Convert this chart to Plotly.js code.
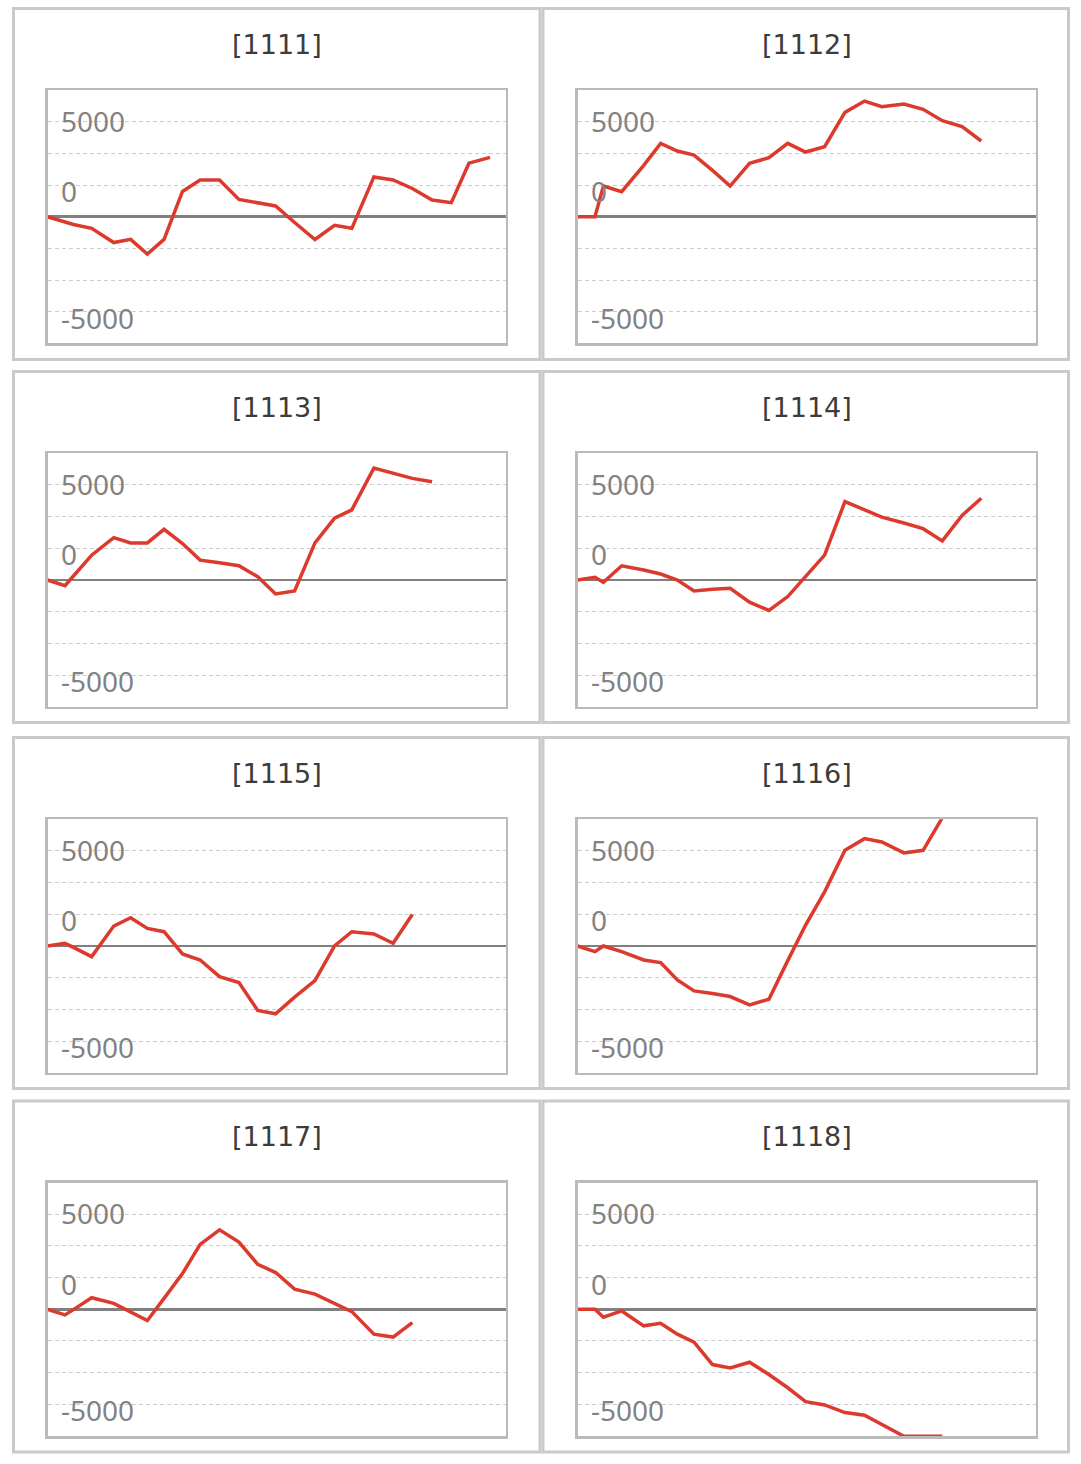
<!DOCTYPE html>
<html>
<head>
<meta charset="utf-8">
<script src="https://cdn.plot.ly/plotly-3.0.1.min.js"></script>
<style>
  html, body { margin: 0; padding: 0; background: #fff; }
  #chart { width: 1081px; height: 1464px; }
</style>
</head>
<body>
<div id="chart"></div>
<script>
// shared time axis (one unit ~ one step)
const days = [0, 0.91, 1.35, 2.3, 3.45, 4.33, 5.2, 6.07, 7.03, 7.95, 8.96, 9.97, 10.95,
              11.88, 12.87, 13.93, 14.95, 15.85, 17.0, 18.0, 19.0, 20.03, 21.03, 21.95, 23.05];

const names = ['[1111]', '[1112]', '[1113]', '[1114]', '[1115]', '[1116]', '[1117]', '[1118]'];

const s1111 = [0, -300, -410, -612, -1360, -1192, -1967, -1192, 1329, 1936, 1936, 907, 749,
               564, -306, -1202, -454, -612, 2094, 1936, 1487, 881, 738, 2816, 3122];
const s1112 = [0, 0, 1614, 1316, 2700, 3859, 3455, 3245, 2440, 1614, 2806, 3105, 3859,
               3403, 3683, 5490, 6086, 5788, 5929, 5648, 5052, 4736, 3982];
const s1113 = [0, -296, 210, 1307, 2230, 1951, 1951, 2665, 1916, 1045, 906, 749, 174,
               -732, -575, 1951, 3258, 3693, 5888, 5609, 5348, 5174];
const s1114 = [0, 139, -122, 749, 523, 314, 0, -575, -490, -436, -1167, -1603, -871,
               174, 1307, 4128, 3710, 3310, 2996, 2700, 2056, 3397, 4303];
const s1115 = [0, 140, -70, -560, 1049, 1487, 927, 752, -420, -735, -1609, -1924, -3393,
               -3568, -2693, -1819, 0, 752, 630, 140, 1662];
const s1116 = [0, -297, 0, -297, -735, -875, -1784, -2361, -2501, -2658, -3096, -2798, -770,
               1102, 2851, 5037, 5649, 5474, 4897, 5037, 6750];
const s1117 = [0, -296, -17, 610, 314, -122, -592, 575, 1881, 3414, 4181, 3536, 2369,
               1934, 1063, 801, 314, -122, -1307, -1463, -697];
const s1118 = [0, 0, -418, -87, -871, -732, -1307, -1725, -2909, -3083, -2787, -3432, -4128,
               -4860, -5034, -5435, -5574, -6045, -6680, -6680, -6680];

const series = [s1111, s1112, s1113, s1114, s1115, s1116, s1117, s1118];

// y grid every 1/3 of 5000, labels as drawn in the original
const gridVals = [-5000, -3333.33, -1666.67, 0, 1666.67, 3333.33, 5000];
const yLabels = [
  { text: '5000', at: 5000, shift: 1 },
  { text: '0', at: 1666.67, shift: -6 },
  { text: '-5000', at: -5000, shift: -6 }
];

const W = 1081, H = 1464;
const colLeft = [47.5, 577.5];
const plotW = 458;
const rowZero = [216.7, 580, 946, 1309.3];
const halfH = 126.7;
const panelX = [[13.5, 540], [543, 1068.5]];
const panelY = [[8.5, 359.5], [371.5, 722.5], [737.5, 1088.5], [1101, 1452]];

const px = v => v / W;
const py = v => 1 - v / H;

const traces = [];
const annotations = [];
const shapes = [];
const layout = {
  width: W,
  height: H,
  margin: { l: 0, r: 0, t: 0, b: 0 },
  paper_bgcolor: '#ffffff',
  plot_bgcolor: '#ffffff',
  showlegend: false,
  hovermode: false
};

series.forEach((vals, i) => {
  const col = i % 2;
  const row = Math.floor(i / 2);
  const suf = i === 0 ? '' : String(i + 1);
  const left = colLeft[col];
  const zero = rowZero[row];

  layout['xaxis' + suf] = {
    domain: [px(left), px(left + plotW)],
    range: [0, plotW / 19.2],
    anchor: 'y' + suf,
    showgrid: false,
    zeroline: false,
    showticklabels: false,
    ticks: '',
    showline: true,
    mirror: true,
    linecolor: '#bababa',
    linewidth: 2.5,
    fixedrange: true
  };
  layout['yaxis' + suf] = {
    domain: [py(zero + halfH), py(zero - halfH)],
    range: [-6666.67, 6666.67],
    anchor: 'x' + suf,
    tickvals: gridVals,
    showticklabels: false,
    ticks: '',
    showgrid: true,
    gridcolor: '#cdcdcd',
    gridwidth: 1,
    griddash: '4px,3px',
    zeroline: true,
    zerolinecolor: '#808080',
    zerolinewidth: 2.5,
    showline: true,
    mirror: true,
    linecolor: '#bababa',
    linewidth: 2.5,
    fixedrange: true
  };

  traces.push({
    x: days.slice(0, vals.length),
    y: vals,
    xaxis: 'x' + suf,
    yaxis: 'y' + suf,
    type: 'scatter',
    mode: 'lines',
    line: { color: '#db3a2d', width: 3.5 },
    hoverinfo: 'skip'
  });

  annotations.push({
    xref: 'paper', yref: 'paper',
    x: px(left + plotW / 2), y: py(zero - 172.5),
    text: names[i],
    showarrow: false,
    xanchor: 'center', yanchor: 'middle',
    font: { family: 'DejaVu Sans, sans-serif', size: 27, color: '#3c3c3c' }
  });

  yLabels.forEach(l => {
    annotations.push({
      xref: 'x' + suf + ' domain', yref: 'y' + suf,
      x: 11 / plotW, y: l.at, yshift: l.shift,
      text: l.text,
      showarrow: false,
      xanchor: 'left', yanchor: 'middle',
      font: { family: 'Noto Sans, sans-serif', size: 28, color: '#828282' }
    });
  });

  shapes.push({
    type: 'rect', xref: 'paper', yref: 'paper',
    x0: px(panelX[col][0]), x1: px(panelX[col][1]),
    y0: py(panelY[row][1]), y1: py(panelY[row][0]),
    line: { color: '#cacaca', width: 3 },
    fillcolor: 'rgba(0,0,0,0)',
    layer: 'below'
  });
});

layout.annotations = annotations;
layout.shapes = shapes;

Plotly.newPlot('chart', traces, layout, { displayModeBar: false, staticPlot: true });
</script>
</body>
</html>
